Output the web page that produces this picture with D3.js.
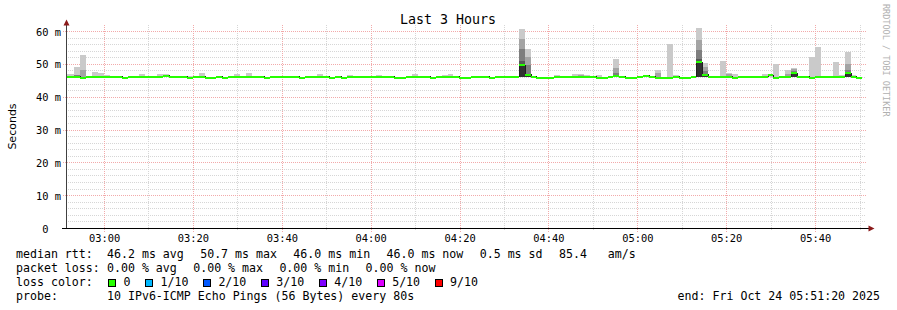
<!DOCTYPE html>
<html>
<head>
<meta charset="utf-8">
<script src="https://cdn.jsdelivr.net/npm/d3@7"></script>
<style>
body { margin: 0; background: #fff; }
text { font-family: "DejaVu Sans Mono", monospace; fill: #000; white-space: pre; }
</style>
</head>
<body>
<svg id="chart" width="897" height="310"></svg>
<script>
// time window and sampling (80s steps)
var startTime = new Date(2025, 9, 24, 2, 51, 20);
var endTime = new Date(2025, 9, 24, 5, 51, 20);
var firstSample = new Date(2025, 9, 24, 2, 50, 31);
var stepSec = 80;

// median rtt per sample (ms), last slot has no data yet
var median = [
    46.2, 46.2, 46.2, 45.9, 46.2, 46.2, 46.2, 46.2, 46.2, 46.2,
    45.9, 46.2, 46.2, 46.2, 46.2, 46.2, 46.2, 46.6, 46.2, 46.2,
    46.2, 45.9, 46.2, 46.2, 45.9, 45.9, 46.2, 45.9, 46.2, 46.2,
    46.2, 46.2, 46.2, 46.2, 45.9, 46.2, 46.2, 46.2, 46.2, 46.2,
    45.9, 46.2, 46.2, 46.2, 46.2, 45.9, 46.2, 45.9, 46.2, 46.2,
    46.2, 46.2, 46.2, 46.2, 46.2, 46.2, 45.9, 45.9, 46.2, 46.2,
    46.2, 46.2, 45.9, 46.2, 46.2, 46.2, 46.2, 45.9, 45.9, 46.2,
    46.2, 46.2, 45.9, 46.2, 46.2, 46.2, 46.2, 49.8, 46.8, 46.2,
    45.9, 45.9, 45.9, 46.2, 46.2, 46.2, 46.2, 46.2, 46.2, 46.2,
    45.9, 45.9, 46.2, 46.4, 46.2, 45.9, 45.9, 46.2, 46.6, 46.2,
    45.9, 45.9, 45.9, 46.2, 45.9, 45.9, 46.2, 50.6, 46.8, 46.2,
    46.2, 46.2, 46.2, 45.9, 46.2, 46.2, 46.2, 46.2, 46.2, 46.7,
    45.9, 46.2, 46.2, 47.3, 46.2, 46.2, 45.9, 46.2, 46.2, 46.2,
    46.2, 46.2, 47.3, 46.2, 45.9, null
];

// samples with visible smoke, and their sorted ping values (ms)
var smokeAt = [0, 1, 2, 3, 5, 6, 7, 13, 15, 16, 17, 20, 21, 23, 28, 29, 31, 43, 48, 53,
    59, 64, 65, 77, 78, 83, 86, 87, 88, 90, 93, 100, 102, 103, 107, 108, 111, 112, 113, 118,
    119, 120, 122, 123, 126, 127, 130, 131, 132, 133];
var pingP10 = [47.0, 47.0, 49.1, 53.0, 47.6, 47.3, 46.7, 47.0, 46.6, 47.0, 47.0, 46.6, 46.6, 47.4, 46.6, 47.0, 47.4, 47.0, 46.7, 46.7,
    47.0, 46.7, 47.0, 60.7, 54.6, 46.7, 47.0, 47.0, 46.7, 46.7, 51.5, 48.2, 56.1, 46.7, 61.0, 50.3, 50.9, 47.3, 47.0, 47.0,
    47.0, 50.0, 48.3, 49.0, 52.1, 55.2, 50.6, 46.7, 53.7, 46.7];
var pingP9 = [46.2, 46.2, 46.7, 48.2, 46.2, 46.2, 46.2, 46.2, 46.2, 46.2, 46.2, 46.2, 46.2, 46.2, 46.6, 46.2, 46.2, 46.2, 46.2, 46.2,
    46.2, 46.2, 46.2, 57.6, 52.1, 46.2, 46.2, 46.7, 46.2, 46.2, 48.8, 47.3, 46.2, 46.2, 57.3, 49.1, 46.2, 47.0, 46.2, 46.2,
    46.2, 46.2, 47.0, 48.5, 46.2, 46.2, 46.2, 46.2, 50.0, 46.6];
var pingP8 = [46.2, 46.2, 46.7, 46.2, 46.2, 46.2, 46.2, 46.2, 46.2, 46.2, 46.2, 46.2, 46.2, 46.2, 46.6, 46.2, 46.2, 46.2, 46.2, 46.2,
    46.2, 46.2, 46.2, 54.8, 49.9, 46.2, 46.2, 46.2, 46.2, 46.2, 47.3, 46.2, 46.2, 46.2, 54.3, 48.0, 46.2, 46.2, 46.2, 46.2,
    46.2, 46.2, 46.2, 48.0, 46.2, 46.2, 46.2, 46.2, 48.2, 46.6];
var pingP7 = [46.2, 46.2, 46.2, 46.2, 46.2, 46.2, 46.2, 46.2, 46.2, 46.2, 46.2, 46.2, 46.2, 46.2, 46.2, 46.2, 46.2, 46.2, 46.2, 46.2,
    46.2, 46.2, 46.2, 50.9, 47.2, 46.2, 46.2, 46.2, 46.2, 46.2, 46.8, 46.2, 46.2, 46.2, 51.7, 47.0, 46.2, 46.2, 46.2, 46.2,
    46.2, 46.2, 46.2, 47.6, 46.2, 46.2, 46.2, 46.2, 47.6, 46.2];
var pingP6 = [46.2, 46.2, 46.2, 46.2, 46.2, 46.2, 46.2, 46.2, 46.2, 46.2, 46.2, 46.2, 46.2, 46.2, 46.2, 46.2, 46.2, 46.2, 46.2, 46.2,
    46.2, 46.2, 46.2, 50.2, 47.0, 46.2, 46.2, 46.2, 46.2, 46.2, 46.5, 46.2, 46.2, 46.2, 51.0, 46.9, 46.2, 46.2, 46.2, 46.2,
    46.2, 46.2, 46.2, 47.5, 46.2, 46.2, 46.2, 46.2, 47.5, 46.2];
var pingLow = [46.0, 46.0, 46.0, 45.9, 46.0, 46.0, 46.0, 46.0, 46.0, 46.0, 46.0, 46.0, 45.9, 46.0, 46.0, 46.0, 46.0, 46.0, 46.0, 46.0,
    46.0, 46.0, 46.0, 46.0, 46.0, 46.0, 46.0, 46.0, 46.0, 45.9, 46.0, 45.9, 45.9, 46.0, 46.0, 46.0, 46.0, 46.0, 45.9, 46.0,
    46.0, 45.9, 46.0, 46.0, 45.9, 46.0, 46.0, 46.0, 46.0, 46.0];

var yTicks = [0, 10, 20, 30, 40, 50, 60];

var lossLabels = ["0", "1/10", "2/10", "3/10", "4/10", "5/10", "9/10"];
var lossColors = ["#26ff00", "#00b8ff", "#0059ff", "#5e00ff", "#7e00ff", "#dd00ff", "#ff0000"];

var rttStats = ["46.2 ms avg", "50.7 ms max", "46.0 ms min", "46.0 ms now", "0.5 ms sd", "85.4   am/s"];
var lossStats = ["0.00 % avg", "0.00 % max", "0.00 % min", "0.00 % now"];
var probeText = "10 IPv6-ICMP Echo Pings (56 Bytes) every 80s";
var endText = "end: Fri Oct 24 05:51:20 2025";

var plotLeft = 66, plotRight = 866, plotTop = 25.3, plotBottom = 228.5;
var charW = 6.98;

var svg = d3.select("#chart");
svg.append("rect").attr("width", 897).attr("height", 310).attr("fill", "#fff");

var x = d3.scaleTime().domain([startTime, endTime]).range([plotLeft, plotRight]);
var y = d3.scaleLinear().domain([0, 61.9]).range([plotBottom, plotTop]);

function sampleStart(k) {
    return new Date(firstSample.getTime() + k * stepSec * 1000);
}
function px(v) { return Math.floor(v) + 0.5; }

// grid
var grid = svg.append("g").attr("shape-rendering", "crispEdges").attr("stroke-dasharray", "1,1");
var minorY = d3.range(2, 62, 2).filter(function(v) { return v % 10 !== 0; });
grid.selectAll(".gy").data(minorY).enter().append("line")
    .attr("x1", plotLeft).attr("x2", plotRight)
    .attr("y1", function(d) { return px(y(d)); })
    .attr("y2", function(d) { return px(y(d)); })
    .attr("stroke", "#d6d6d6");
var minorX = x.ticks(d3.timeMinute.every(10)).filter(function(d) { return d.getMinutes() % 20 !== 0; });
grid.selectAll(".gx").data(minorX).enter().append("line")
    .attr("x1", function(d) { return px(x(d)); })
    .attr("x2", function(d) { return px(x(d)); })
    .attr("y1", plotTop).attr("y2", plotBottom + 2)
    .attr("stroke", "#d6d6d6");
grid.selectAll(".my").data(yTicks.slice(1)).enter().append("line")
    .attr("x1", plotLeft - 3).attr("x2", plotRight)
    .attr("y1", function(d) { return px(y(d)); })
    .attr("y2", function(d) { return px(y(d)); })
    .attr("stroke", "#f2aaaa");
var majorX = x.ticks(d3.timeMinute.every(20));
grid.selectAll(".mx").data(majorX).enter().append("line")
    .attr("x1", function(d) { return px(x(d)); })
    .attr("x2", function(d) { return px(x(d)); })
    .attr("y1", plotTop).attr("y2", plotBottom + 3)
    .attr("stroke", "#f2aaaa");

// data, clipped to the plot
svg.append("clipPath").attr("id", "clip").append("rect")
    .attr("x", plotLeft).attr("y", 0).attr("width", plotRight - plotLeft).attr("height", plotBottom);
var plot = svg.append("g").attr("clip-path", "url(#clip)").attr("shape-rendering", "crispEdges");

var bandColors = ["#cacaca", "#a4a4a4", "#7e7e7e", "#585858", "#323232"];
var bandTops = [pingP10, pingP9, pingP8, pingP7, pingP6];
bandTops.forEach(function(tops, b) {
    plot.append("g").selectAll("rect").data(smokeAt).enter().append("rect")
        .attr("x", function(k) { return Math.round(x(sampleStart(k))); })
        .attr("width", function(k) { return Math.round(x(sampleStart(k + 1))) - Math.round(x(sampleStart(k))); })
        .attr("y", function(k, i) { return Math.round(y(tops[i])); })
        .attr("height", function(k, i) { return Math.max(0, Math.round(y(pingLow[i])) - Math.round(y(tops[i]))); })
        .attr("fill", bandColors[b]);
});

// median as thin black step line
var steps = [];
median.forEach(function(m, k) {
    steps.push({ t: sampleStart(k), v: m });
    steps.push({ t: sampleStart(k + 1), v: m });
});
var line = d3.line()
    .defined(function(d) { return d.v != null; })
    .x(function(d) { return Math.round(x(d.t)); })
    .y(function(d) { return px(y(d.v)); });
plot.append("path").datum(steps)
    .attr("d", line).attr("fill", "none").attr("stroke", "#202020").attr("stroke-width", 1);

// loss-coloured median band
var sw = 0.31;
plot.append("g").selectAll("rect").data(median.map(function(m, k) { return { k: k, v: m }; })
        .filter(function(d) { return d.v != null; }))
    .enter().append("rect")
    .attr("x", function(d) { return Math.round(x(sampleStart(d.k))); })
    .attr("width", function(d) { return Math.round(x(sampleStart(d.k + 1))) - Math.round(x(sampleStart(d.k))); })
    .attr("y", function(d) { return Math.round(y(d.v + sw)); })
    .attr("height", function(d) { return Math.max(2, Math.round(y(d.v - sw)) - Math.round(y(d.v + sw))); })
    .attr("fill", lossColors[0]);

// axes
var axes = svg.append("g").attr("shape-rendering", "crispEdges");
axes.append("line").attr("x1", plotLeft + 0.5).attr("x2", plotLeft + 0.5)
    .attr("y1", plotBottom).attr("y2", 23).attr("stroke", "#404040");
axes.append("line").attr("x1", 62).attr("x2", 870)
    .attr("y1", plotBottom).attr("y2", plotBottom).attr("stroke", "#000");
svg.append("path").attr("d", "M63.5,25.5 L66.5,19.5 L69.5,25.5 Z").attr("fill", "#8b1a1a");
svg.append("path").attr("d", "M868.5,225.5 L874.5,228.5 L868.5,231.5 Z").attr("fill", "#8b1a1a");

svg.append("g").selectAll("text").data(yTicks).enter().append("text")
    .attr("x", 61).attr("y", function(d) { return y(d) + 4; })
    .attr("text-anchor", "end").style("font-size", "10.4px")
    .text(function(d) { return d === 0 ? "0  " : d + " m"; });

var fmt = d3.timeFormat("%H:%M");
svg.append("g").selectAll("text").data(majorX).enter().append("text")
    .attr("x", function(d) { return x(d); }).attr("y", 241.5)
    .attr("text-anchor", "middle").style("font-size", "10.4px")
    .text(fmt);

// titles
svg.append("text").attr("x", 448).attr("y", 24).attr("text-anchor", "middle")
    .style("font-size", "13.3px").text("Last 3 Hours");
svg.append("text").attr("transform", "translate(15.5,126.5) rotate(-90)")
    .attr("text-anchor", "middle").style("font-family", "'DejaVu Sans', sans-serif")
    .style("font-size", "11px").text("Seconds");
svg.append("text").attr("transform", "translate(882.5,4) rotate(90)")
    .style("font-size", "8.5px").style("fill", "#b0b0b0").text("RRDTOOL / TOBI OETIKER");

// legend
var legend = svg.append("g").style("font-size", "11.6px");
var col = 107, gap = 16.4;
function legendRow(label, items, baseY) {
    legend.append("text").attr("x", 16).attr("y", baseY).text(label);
    var cx = col;
    items.forEach(function(s) {
        legend.append("text").attr("x", cx).attr("y", baseY).text(s);
        cx += s.length * charW + gap;
    });
}
legendRow("median rtt:", rttStats, 258.3);
legendRow("packet loss:", lossStats, 272.3);

legend.append("text").attr("x", 16).attr("y", 286.3).text("loss color:");
var lx = 108.5;
lossLabels.forEach(function(lab, i) {
    legend.append("rect").attr("x", lx).attr("y", 279.5).attr("width", 7).attr("height", 7)
        .attr("fill", lossColors[i]).attr("stroke", "#000").attr("stroke-width", 1)
        .attr("shape-rendering", "crispEdges");
    legend.append("text").attr("x", lx + 15).attr("y", 286.3).text(lab);
    lx += 15 + lab.length * charW + 15;
});

legend.append("text").attr("x", 16).attr("y", 300.3).text("probe:");
legend.append("text").attr("x", col).attr("y", 300.3).text(probeText);
legend.append("text").attr("x", 880).attr("y", 300.3).attr("text-anchor", "end").text(endText);
</script>
</body>
</html>
